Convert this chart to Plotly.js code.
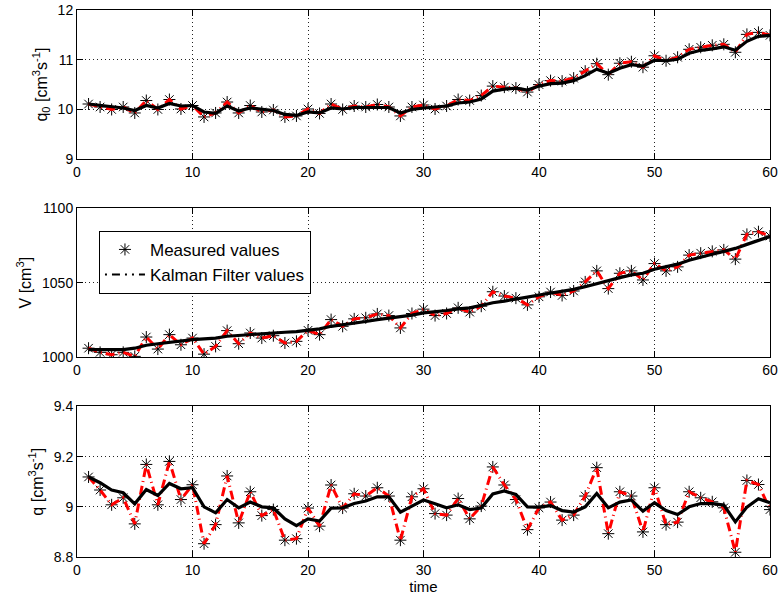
<!DOCTYPE html>
<html>
<head>
<meta charset="utf-8">
<script src="https://cdn.plot.ly/plotly-3.0.1.min.js"></script>
<style>
  html, body { margin: 0; padding: 0; background: #fff; }
  #chart { width: 780px; height: 601px; }
</style>
</head>
<body>
<div id="chart"></div>
<script>
// Sample index (time steps)
const time = Array.from({length: 60}, (_, i) => i + 1);

// Inflow q0 [cm^3 s^-1]
const q0Measured = [10.11, 10.05, 10.00, 10.05, 9.93, 10.18, 10.00, 10.20, 10.01, 10.08,
                    9.85, 9.93, 10.15, 9.93, 10.08, 9.95, 9.99, 9.85, 9.87, 10.01,
                    9.92, 10.11, 10.00, 10.07, 10.05, 10.10, 10.05, 9.87, 10.05, 10.09,
                    10.01, 10.07, 10.20, 10.18, 10.28, 10.47, 10.45, 10.43, 10.35, 10.50,
                    10.58, 10.57, 10.63, 10.77, 10.92, 10.70, 10.93, 10.96, 10.85, 11.08,
                    10.98, 11.05, 11.21, 11.25, 11.29, 11.31, 11.15, 11.51, 11.55, 11.49];
const q0Kalman = [10.11, 10.08, 10.05, 10.03, 9.98, 10.08, 10.03, 10.12, 10.07, 10.08,
                  9.95, 9.92, 10.07, 9.97, 10.03, 10.00, 9.98, 9.90, 9.88, 9.95,
                  9.93, 10.03, 10.01, 10.04, 10.04, 10.05, 10.04, 9.93, 10.00, 10.03,
                  10.05, 10.07, 10.13, 10.15, 10.21, 10.37, 10.41, 10.43, 10.39, 10.47,
                  10.52, 10.53, 10.58, 10.68, 10.81, 10.73, 10.83, 10.90, 10.87, 10.99,
                  10.98, 11.01, 11.13, 11.19, 11.22, 11.26, 11.19, 11.37, 11.47, 11.49];

// Volume V [cm^3]
const vMeasured = [1006, 1003.2, 1001.6, 1003.2, 1000.5, 1013.5, 1005.4, 1015.1, 1008.3, 1012.8,
                   1002, 1007.2, 1017.8, 1009, 1016.2, 1012.8, 1014.4, 1009.5, 1010.6, 1018,
                   1015.1, 1025.2, 1020.7, 1025.7, 1026.4, 1029, 1027.9, 1019.6, 1029.3, 1032.2,
                   1027.9, 1029.3, 1033.1, 1030.2, 1034.2, 1043.9, 1041, 1039.6, 1035.1, 1040.5,
                   1043.7, 1041.4, 1044.4, 1050.5, 1057.9, 1046, 1056.3, 1057.9, 1051.8, 1062.8,
                   1057.9, 1060.6, 1068.5, 1069.8, 1071, 1072, 1065.8, 1082.4, 1084.2, 1081.3];
const vKalman = [1005, 1005, 1004.6, 1005, 1006, 1008, 1009, 1010, 1011, 1011.7,
                 1012.2, 1012.8, 1014, 1014.6, 1015.3, 1015.8, 1016.2, 1016.7, 1017.1, 1018,
                 1019, 1020.7, 1021.6, 1023, 1023.9, 1025.2, 1026.1, 1026.8, 1028.2, 1029.7,
                 1030.4, 1031.3, 1032.4, 1033.1, 1034.7, 1036.5, 1037.6, 1039.2, 1040.3, 1041.7,
                 1042.8, 1043.9, 1045.5, 1047.3, 1049.5, 1051.4, 1053.4, 1055.2, 1056.3, 1059,
                 1060.6, 1062.4, 1065.1, 1067.3, 1069.1, 1071, 1073, 1075.7, 1078.2, 1081];

// Outflow q [cm^3 s^-1]
const qMeasured = [9.119, 9.067, 9.008, 9.036, 8.932, 9.169, 9.008, 9.181, 9.029, 9.088,
                   8.853, 8.929, 9.123, 8.936, 9.060, 8.965, 8.989, 8.867, 8.873, 8.995,
                   8.923, 9.087, 8.995, 9.052, 9.043, 9.076, 9.043, 8.867, 9.040, 9.072,
                   8.973, 8.967, 9.033, 8.952, 9.003, 9.159, 9.087, 9.029, 8.909, 8.996,
                   9.019, 8.947, 8.967, 9.043, 9.156, 8.893, 9.060, 9.043, 8.900, 9.076,
                   8.929, 8.939, 9.060, 9.036, 9.020, 8.996, 8.819, 9.105, 9.089, 8.989];
const qKalman = [9.119, 9.096, 9.067, 9.056, 9.012, 9.069, 9.045, 9.093, 9.072, 9.076,
                 9.000, 8.976, 9.029, 8.996, 9.019, 9.000, 8.996, 8.952, 8.925, 8.952,
                 8.943, 8.995, 8.996, 9.013, 9.023, 9.040, 9.040, 8.979, 9.003, 9.027,
                 9.012, 8.996, 9.008, 8.989, 8.995, 9.051, 9.063, 9.049, 9.000, 8.999,
                 9.005, 8.985, 8.979, 9.000, 9.053, 8.996, 9.019, 9.027, 8.983, 9.016,
                 8.985, 8.969, 9.000, 9.013, 9.013, 9.007, 8.940, 8.999, 9.032, 9.016];

// Axis ticks and titles
const xTicks = [0, 10, 20, 30, 40, 50, 60];
const q0Ticks = [9, 10, 11, 12];
const vTicks = [1000, 1050, 1100];
const qTicks = [8.8, 9, 9.2, 9.4];
const q0Title = 'q<sub>0</sub> [cm<sup>3</sup>s<sup>-1</sup>]';
const vTitle = 'V [cm<sup>3</sup>]';
const qTitle = 'q [cm<sup>3</sup>s<sup>-1</sup>]';
const xTitle = 'time';
const legendNames = ['Measured values', 'Kalman Filter values'];

const FONT = 'Liberation Sans, Arial, Helvetica, sans-serif';
const RED = '#ff0000';
const GRID = { showgrid: true, gridcolor: '#222', griddash: '1px,3px', gridwidth: 1 };

function panelTraces(measured, kalman, xa, ya, withLegend) {
  const out = [
    { // measured samples as asterisks
      x: time, y: measured, xaxis: xa, yaxis: ya, type: 'scatter', mode: 'markers',
      name: legendNames[0], showlegend: withLegend,
      marker: { symbol: 'asterisk-open', size: 10, color: '#000', line: { color: '#111', width: 1 } }
    },
    { // measured samples joined with a red dash-dot line
      x: time, y: measured, xaxis: xa, yaxis: ya, type: 'scatter', mode: 'lines',
      showlegend: false, hoverinfo: 'skip',
      line: { color: RED, width: 3, dash: '9px,4px,1px,4px' }
    },
    { // filter estimate
      x: time, y: kalman, xaxis: xa, yaxis: ya, type: 'scatter', mode: 'lines',
      showlegend: false,
      line: { color: '#000', width: 3.2 }
    }
  ];
  if (withLegend) {
    // legend key only: a single undefined point, nothing is plotted
    out.push({
      x: [null], y: [null], xaxis: xa, yaxis: ya, type: 'scatter', mode: 'lines',
      name: legendNames[1], showlegend: true, hoverinfo: 'skip',
      line: { color: '#000', width: 2, dash: '2px,5px,8px,5px,2px,5px' }
    });
  }
  return out;
}

const data = [].concat(
  panelTraces(q0Measured, q0Kalman, 'x', 'y', false),
  panelTraces(vMeasured, vKalman, 'x2', 'y2', true),
  panelTraces(qMeasured, qKalman, 'x3', 'y3', false)
);

function xAxis(anchor, withTitle) {
  return Object.assign({
    anchor: anchor, domain: [0, 1], range: [0, 60], tickvals: xTicks,
    ticks: 'inside', ticklen: 6, tickcolor: '#000', tickwidth: 1,
    showline: true, linecolor: '#000', linewidth: 1, mirror: 'ticks',
    zeroline: false, tickfont: { family: FONT, size: 14, color: '#000' },
    title: withTitle ? { text: xTitle, font: { family: FONT, size: 15, color: '#000' }, standoff: 4 } : { text: '' }
  }, GRID);
}
function yAxis(anchor, domain, range, ticks, title) {
  return Object.assign({
    anchor: anchor, domain: domain, range: range, tickvals: ticks,
    ticks: 'inside', ticklen: 6, tickcolor: '#000', tickwidth: 1,
    showline: true, linecolor: '#000', linewidth: 1, mirror: 'ticks',
    zeroline: false, tickfont: { family: FONT, size: 14, color: '#000' },
    title: { text: title, font: { family: FONT, size: 16, color: '#000' }, standoff: 6 }
  }, GRID);
}

const layout = {
  width: 780, height: 601,
  margin: { l: 77, r: 9.5, t: 10, b: 43.7 },
  paper_bgcolor: '#fff', plot_bgcolor: '#fff',
  font: { family: FONT, size: 14, color: '#000' },
  showlegend: true,
  legend: {
    x: 0.0317, y: 0.5962, xanchor: 'left', yanchor: 'top',
    bgcolor: '#fff', bordercolor: '#000', borderwidth: 1,
    font: { family: FONT, size: 17, color: '#000' },
    tracegroupgap: 0, itemwidth: 40
  },
  xaxis: xAxis('y', false),
  yaxis: yAxis('x', [0.7272, 1], [9, 12], q0Ticks, q0Title),
  xaxis2: xAxis('y2', false),
  yaxis2: yAxis('x2', [0.3654, 0.6377], [1000, 1100], vTicks, vTitle),
  xaxis3: xAxis('y3', true),
  yaxis3: yAxis('x3', [0, 0.2752], [8.8, 9.4], qTicks, qTitle)
};

Plotly.newPlot('chart', data, layout, { staticPlot: true, displayModeBar: false });
</script>
</body>
</html>
